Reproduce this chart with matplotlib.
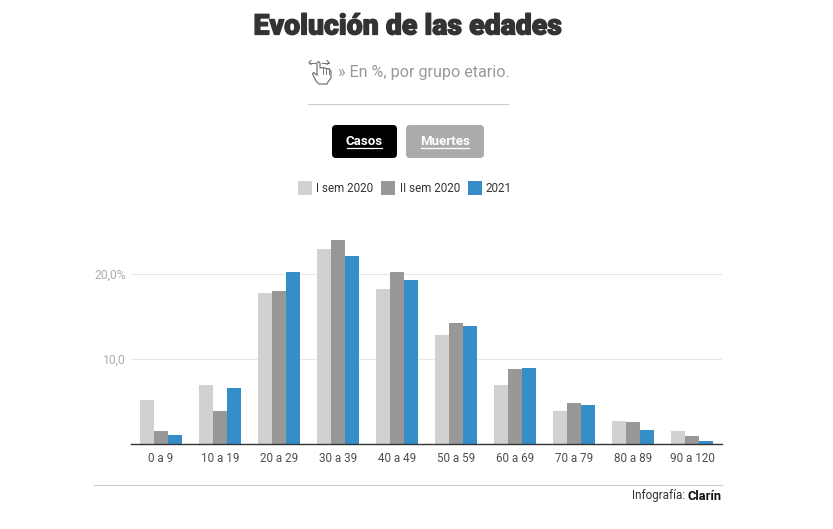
import matplotlib
matplotlib.use('Agg')
import matplotlib.pyplot as plt
import matplotlib.patheffects as pe
from matplotlib.patches import FancyBboxPatch, Rectangle
import numpy as np

categories = ['0 a 9', '10 a 19', '20 a 29', '30 a 39', '40 a 49',
              '50 a 59', '60 a 69', '70 a 79', '80 a 89', '90 a 120']
sem1_2020 = [5.2, 6.95, 17.8, 22.95, 18.2, 12.8, 6.95, 3.9, 2.7, 1.55]
sem2_2020 = [1.55, 3.9, 18.0, 24.0, 20.25, 14.2, 8.8, 4.8, 2.6, 0.95]
y2021 = [1.05, 6.6, 20.25, 22.1, 19.3, 13.9, 8.95, 4.6, 1.65, 0.35]
series_names = ['I sem 2020', 'II sem 2020', '2021']
colors = ['#d1d1d1', '#989898', '#358ec7']

W, H = 833, 529
plt.rcParams['font.family'] = ['Roboto', 'DejaVu Sans']

fig = plt.figure(figsize=(W/100, H/100), dpi=100)

# overlay in pixel coordinates for the page furniture
page = fig.add_axes([0, 0, 1, 1])
page.set_xlim(0, W)
page.set_ylim(H, 0)
page.axis('off')

# chart axes, baseline at y=444, x from 131 to 722
ax = fig.add_axes([131/W, 1-444/H, 591/W, 204/H])
ax.patch.set_alpha(0)
x = np.arange(len(categories))
w = 14/59
for i, vals in enumerate([sem1_2020, sem2_2020, y2021]):
    ax.bar(x + (i-1)*w, vals, w, color=colors[i], zorder=3)
ax.set_xlim(-30/59, 9 + 30/59)
ax.set_ylim(0, 24)
ax.set_yticks([10, 20])
ax.set_yticklabels(['10,0', '20,0%'], color='#adadad', fontsize=8.7)
ax.set_xticks(x)
ax.set_xticklabels(categories, color='#4d4d4d', fontsize=8.4)
ax.tick_params(axis='x', length=0, pad=6)
ax.tick_params(axis='y', length=0, pad=3.5)
ax.grid(axis='y', color='#e8e8e8', lw=0.8, zorder=0)
for s in ['top', 'right', 'left']:
    ax.spines[s].set_visible(False)
ax.spines['bottom'].set_color('#333333')
ax.spines['bottom'].set_linewidth(1.0)
ax.spines['bottom'].set_zorder(5)

# title and subtitle
page.text(408, 27, 'Evolución de las edades', ha='center', va='center', fontsize=20.5,
          fontweight='black', color='#333333',
          path_effects=[pe.withStroke(linewidth=0.9, foreground='#333333')])
page.text(338, 72, '» En %, por grupo etario.', ha='left', va='center', fontsize=11.6,
          color='#999999')
page.plot([308, 508], [103.5, 103.5], color='#cccccc', lw=0.8)

# hand icon
ic = '#777777'
page.plot([309, 315], [62.5, 62.5], color=ic, lw=0.8)
page.plot([322, 329], [62.5, 62.5], color=ic, lw=0.8)
page.plot([311, 309, 311], [60.5, 62.5, 64.5], color=ic, lw=0.8)
page.plot([327, 329, 327], [60.5, 62.5, 64.5], color=ic, lw=0.8)
page.plot([317, 317, 318.5, 320, 320, 323, 326, 329, 331, 331, 328, 327, 319, 316, 312.5, 313.5, 317],
          [74, 63, 61.5, 63, 68, 67.5, 68.5, 69, 71, 78, 82, 84, 84, 81, 74, 72.5, 75],
          color=ic, lw=0.9)
for hx in [323, 326, 329]:
    page.plot([hx, hx], [68, 74], color=ic, lw=0.7)

# buttons
page.add_patch(FancyBboxPatch((332, 125), 65, 33, boxstyle='round,pad=0,rounding_size=4',
                              fc='#000000', ec='none'))
page.add_patch(FancyBboxPatch((406, 125), 78, 33, boxstyle='round,pad=0,rounding_size=4',
                              fc='#ababab', ec='none'))
page.text(364.5, 141.5, 'Casos', ha='center', va='center', color='white', fontsize=9.5, fontweight='bold')
page.text(445, 141.5, 'Muertes', ha='center', va='center', color='white', fontsize=9.5, fontweight='bold')
page.plot([347, 382], [148, 148], color='white', lw=0.9)
page.plot([421, 469], [148, 148], color='white', lw=0.9)

# legend
for lx, tx, name, c in zip([298, 381, 468], [316, 400, 486], series_names, colors):
    page.add_patch(Rectangle((lx, 181), 14, 14, fc=c, ec='none'))
    page.text(tx, 188, name, ha='left', va='center', fontsize=8.4, color='#333333')

# footer
page.plot([94, 722], [484.5, 484.5], color='#cccccc', lw=0.8)
page.text(722, 496, 'Clarín', ha='right', va='center', fontsize=9.3, fontweight='bold', color='#111111')
page.text(685, 496, 'Infografía:', ha='right', va='center', fontsize=8.4, color='#333333')

fig.savefig('out.png', dpi=100)
